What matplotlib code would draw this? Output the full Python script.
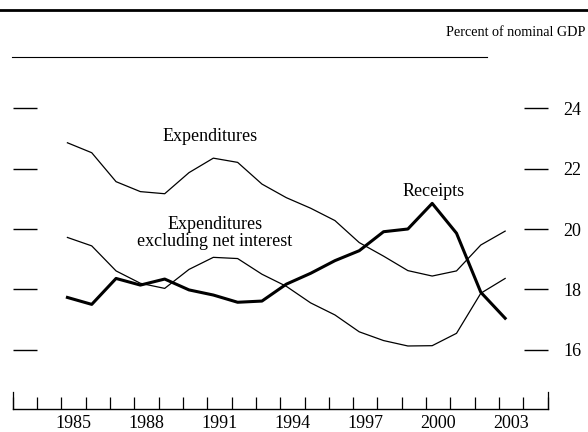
import numpy as np
import matplotlib.pyplot as plt

plt.rcParams['font.family'] = ['Liberation Serif', 'DejaVu Serif']

# Fiscal years and shares of nominal GDP (percent)
years = np.arange(1985, 2004)
expenditures = [22.86, 22.53, 21.57, 21.24, 21.17, 21.87, 22.35, 22.21, 21.49, 21.04,
                20.69, 20.28, 19.55, 19.10, 18.62, 18.44, 18.61, 19.47, 19.93]
expend_ex_interest = [19.72, 19.44, 18.61, 18.20, 18.03, 18.66, 19.06, 19.02, 18.50, 18.10,
                      17.55, 17.15, 16.59, 16.30, 16.12, 16.13, 16.54, 17.87, 18.36]
receipts = [17.73, 17.50, 18.36, 18.14, 18.34, 17.98, 17.81, 17.57, 17.61, 18.17,
            18.53, 18.95, 19.28, 19.91, 20.00, 20.85, 19.86, 17.90, 17.04]

y_ticks = [16, 18, 20, 22, 24]
x_labels = [1985, 1988, 1991, 1994, 1997, 2000, 2003]

W, H = 588, 432
fig = plt.figure(figsize=(W / 100, H / 100), dpi=100)

# axes placed in pixel terms
left, right, bottom, top = 12.7, 547.7, 409.3, 56.7
ax = fig.add_axes([left / W, 1 - bottom / H, (right - left) / W, (bottom - top) / H])

x = years + 0.25
ax.plot(x, expenditures, color='black', lw=0.9)
ax.plot(x, expend_ex_interest, color='black', lw=0.9)
ax.plot(x, receipts, color='black', lw=2.2)

ax.set_xlim(1983, 2005)
ax.set_ylim(14.02, 25.715)

for s in ['top', 'left', 'right']:
    ax.spines[s].set_visible(False)
ax.spines['bottom'].set_linewidth(1.0)

# y ticks: inward dashes on both sides, labels on right
ax.set_yticks(y_ticks)
ax.set_yticklabels([str(v) for v in y_ticks])
ax.tick_params(axis='y', which='major', direction='in', length=17, width=1.0,
               left=True, right=True, labelleft=False, labelright=True,
               labelsize=13, pad=11)

# x ticks: year boundaries, labels centred between ticks
ax.set_xticks(np.arange(1983, 2006))
ax.set_xticklabels([])
ax.tick_params(axis='x', which='major', direction='in', length=9, width=0.9)
ax.set_xticks([v + 0.5 for v in x_labels], minor=True)
ax.set_xticklabels([str(v) for v in x_labels], minor=True)
ax.tick_params(axis='x', which='minor', length=0, labelsize=13, pad=4)
# taller ticks at both ends of the axis
for xe in [1983, 2005]:
    ax.plot([xe, xe], [14.02, 14.02 + 17.6 / 30.16], color='black', lw=0.9, clip_on=False)

ax.text(1991.12, 23.06, 'Expenditures', ha='center', va='center', fontsize=13)
ax.text(1991.32, 19.87, 'Expenditures\nexcluding net interest', ha='center', va='center',
        fontsize=13, linespacing=0.95)
ax.text(2000.32, 21.23, 'Receipts', ha='center', va='center', fontsize=13)

# header rules and unit label
fig.add_artist(plt.Line2D([0, 1], [1 - 10 / H, 1 - 10 / H], color='black', lw=2.0))
fig.add_artist(plt.Line2D([11.7 / W, 486.7 / W], [1 - 56.7 / H, 1 - 56.7 / H],
                          color='black', lw=0.8))
fig.text(585 / W, 1 - 36.5 / H, 'Percent of nominal GDP', ha='right', va='baseline',
         fontsize=10.2)

fig.savefig('out.png', dpi=100)
